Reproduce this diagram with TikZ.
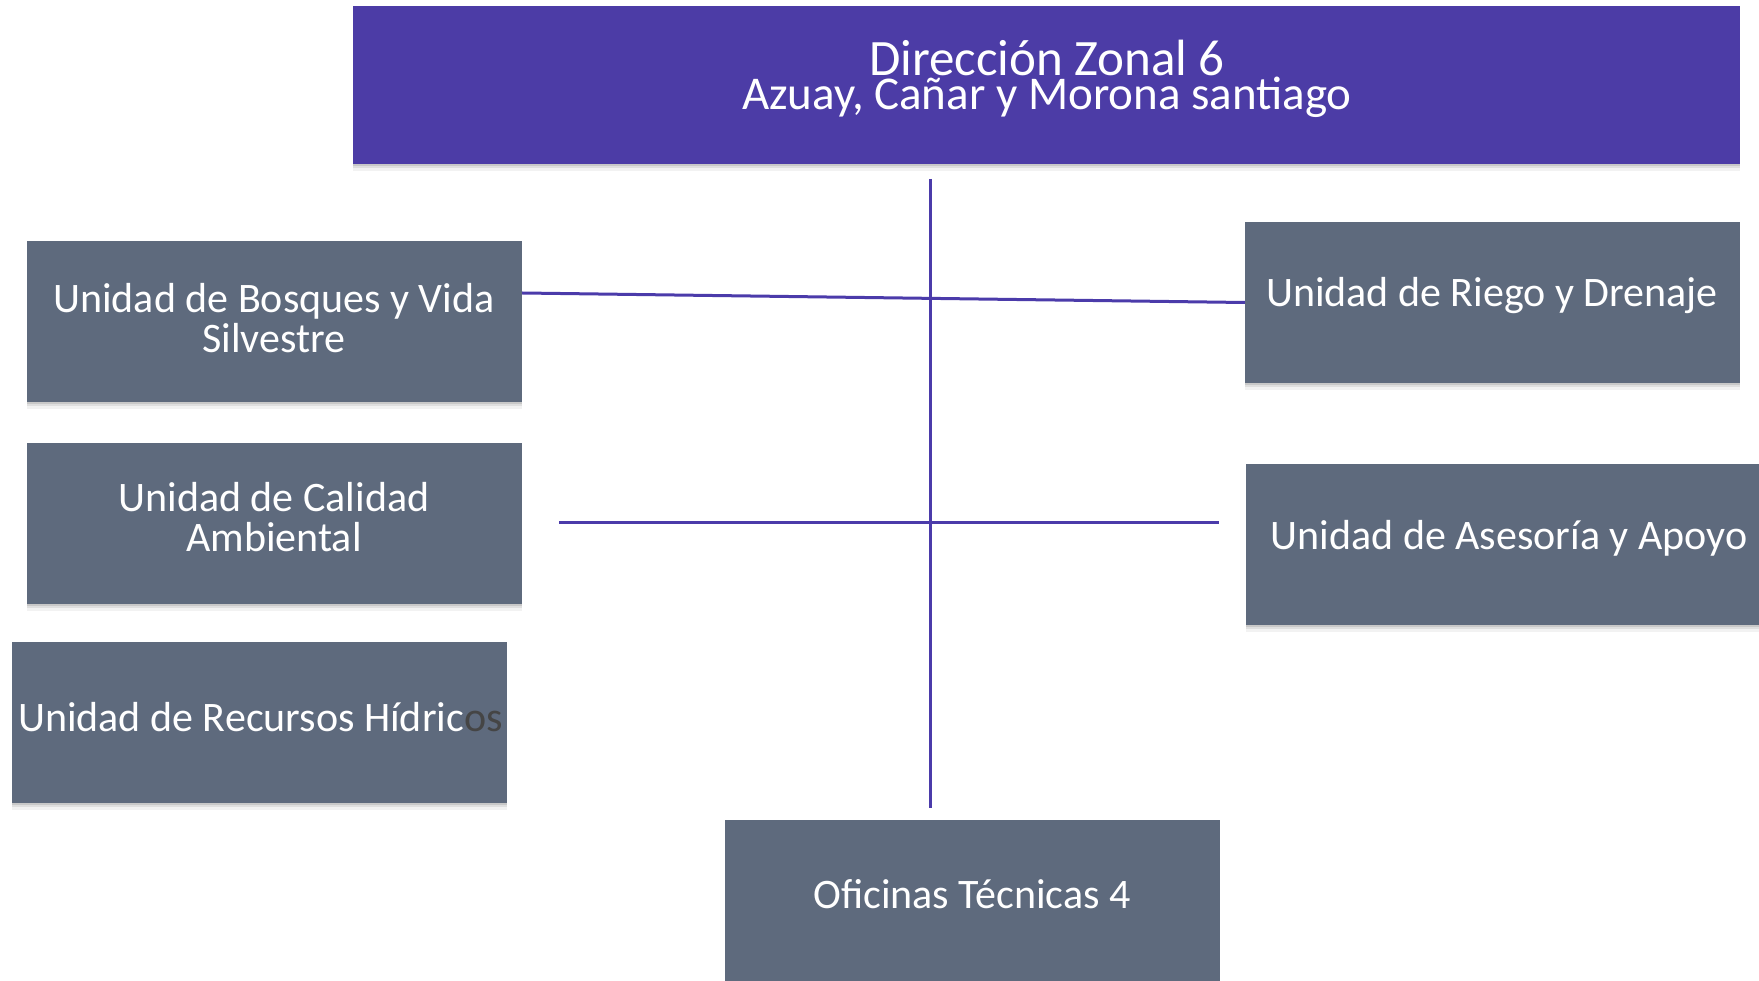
\documentclass[tikz,border=0pt]{standalone}
\usepackage{fontspec}
\setmainfont{Carlito}
\usetikzlibrary{shadows}
\definecolor{topfill}{HTML}{4C3CA6}
\definecolor{boxfill}{HTML}{5E6A7D}
\definecolor{linecol}{HTML}{4B3BAA}
\definecolor{overflow}{HTML}{454545}
\tikzset{
  softshadow/.style={
    drop shadow={shadow xshift=0pt, shadow yshift=-2pt, opacity=0.10, fill=black},
    drop shadow={shadow xshift=0pt, shadow yshift=-4pt, opacity=0.08, fill=black},
    drop shadow={shadow xshift=0pt, shadow yshift=-7pt, opacity=0.05, fill=black}},
  unitbox/.style={draw=none, fill=boxfill, inner sep=0pt, minimum width=495pt, minimum height=161pt, softshadow},
  headbox/.style={draw=none, fill=topfill, inner sep=0pt, minimum width=1387pt, minimum height=158pt, softshadow},
  boxtext/.style={text=white, align=center, font=\fontsize{42}{40}\selectfont, inner sep=0pt},
  headtext/.style={text=white, align=center, inner sep=0pt},
  link/.style={draw=linecol, line width=3pt}
}
\begin{document}
\begin{tikzpicture}[x=1pt,y=-1pt]
\useasboundingbox (0,0) rectangle (1759,981);
% boxes
\node[headbox] (head) at (1046.5,85) {};
\node[unitbox] (bosques) at (274.5,321.5) {};
\node[unitbox] (calidad) at (274.5,523) {};
\node[unitbox] (recursos) at (259.5,722) {};
\node[unitbox] (riego) at (1492.5,302.5) {};
\node[unitbox, minimum width=513pt] (asesoria) at (1502.5,544) {};
\node[unitbox] (oficinas) at (972,900.5) {};
% texts
\node[headtext] (headt) at (1047,79) {{\fontsize{51}{42}\selectfont Dirección Zonal 6}\\{\fontsize{47}{42}\selectfont Azuay, Cañar y Morona santiago}};
\node[boxtext] (bosquest) at (274,318) {Unidad de Bosques y Vida\\Silvestre};
\node[boxtext] (calidadt) at (274,517) {Unidad de Calidad\\Ambiental};
\node[boxtext, anchor=west] (recursost) at (18,717) {Unidad de Recursos Hídric\textcolor{overflow}{os}};
\node[boxtext] (riegot) at (1492,296) {Unidad de Riego y Drenaje};
\node[boxtext] (asesoriat) at (1509,538) {Unidad de Asesoría y Apoyo};
\node[boxtext] (oficinast) at (972,894) {Oficinas Técnicas 4};
% connectors
\coordinate (vtop) at (930,179);
\coordinate (vbot) at (930,808);
\coordinate (hleft) at (559,522);
\coordinate (hright) at (1219,522);
\draw[link] (vtop) -- (vbot);
\draw[link] ([yshift=28.5pt]bosques.east) -- (riego.west);
\draw[link] (hleft) -- (hright);
\end{tikzpicture}
\end{document}
